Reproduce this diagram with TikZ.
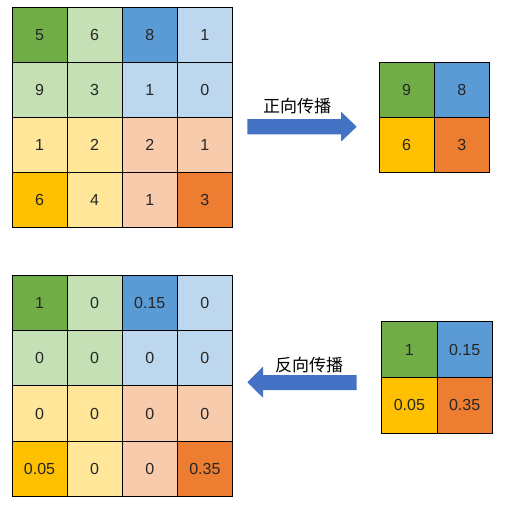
\documentclass[tikz,border=0pt]{standalone}
\usepackage{fontspec}
\setmainfont{Liberation Sans}
\newfontfamily\cjk{Noto Sans CJK SC}
\usetikzlibrary{shapes.arrows}
\definecolor{dg}{HTML}{70AD47}
\definecolor{lg}{HTML}{C5E0B4}
\definecolor{db}{HTML}{5B9BD5}
\definecolor{lb}{HTML}{BDD7EE}
\definecolor{dy}{HTML}{FFC000}
\definecolor{ly}{HTML}{FFE699}
\definecolor{do}{HTML}{ED7D31}
\definecolor{lo}{HTML}{F8CBAD}
\definecolor{arr}{HTML}{4472C4}
\begin{document}
\begin{tikzpicture}[x=1pt,y=-1pt,
  cell/.style={draw=black,line width=0.9pt,minimum width=55pt,minimum height=55pt,inner sep=0pt,font=\fontsize{16}{16}\selectfont,text=black!85},
  lab/.style={font=\cjk\fontsize{17}{17}\selectfont,inner sep=0pt}]
\useasboundingbox (0,0) rectangle (512,504);
\fill[white] (0,0) rectangle (512,504);
% top big grid
\def\gx{12}\def\gy{7}
\foreach \r/\c/\col/\v [count=\i] in {
 0/0/dg/5, 0/1/lg/6, 0/2/db/8, 0/3/lb/1,
 1/0/lg/9, 1/1/lg/3, 1/2/lb/1, 1/3/lb/0,
 2/0/ly/1, 2/1/ly/2, 2/2/lo/2, 2/3/lo/1,
 3/0/dy/6, 3/1/ly/4, 3/2/lo/1, 3/3/do/3}
 \node[cell,fill=\col,minimum width=55.1pt,minimum height=55.2pt] (a\i) at ({\gx+27.55+55.1*\c},{\gy+27.6+55.2*\r}) {\v};
% top small grid
\foreach \r/\c/\col/\v [count=\i] in {0/0/dg/9, 0/1/db/8, 1/0/dy/6, 1/1/do/3}
 \node[cell,fill=\col] (b\i) at ({379+27.6+55.2*\c},{61.7+27.8+55.8*\r}) {\v};
% bottom big grid
\foreach \r/\c/\col/\v [count=\i] in {
 0/0/dg/1, 0/1/lg/0, 0/2/db/0.15, 0/3/lb/0,
 1/0/lg/0, 1/1/lg/0, 1/2/lb/0, 1/3/lb/0,
 2/0/ly/0, 2/1/ly/0, 2/2/lo/0, 2/3/lo/0,
 3/0/dy/0.05, 3/1/ly/0, 3/2/lo/0, 3/3/do/0.35}
 \node[cell,fill=\col,minimum width=55.1pt,minimum height=55.4pt] (c\i) at ({12+27.55+55.1*\c},{275+27.7+55.4*\r}) {\v};
% bottom small grid
\foreach \r/\c/\col/\v [count=\i] in {0/0/dg/1, 0/1/db/0.15, 1/0/dy/0.05, 1/1/do/0.35}
 \node[cell,fill=\col,minimum width=55.3pt,minimum height=55.8pt] (d\i) at ({381.7+27.65+55.3*\c},{321.7+27.9+55.8*\r}) {\v};
% arrows
\coordinate (ra1) at (247.3,119);
\coordinate (ra2) at (341,119);
\coordinate (ra3) at (341,111.7);
\coordinate (ra4) at (356.7,126.7);
\coordinate (ra5) at (341,141.7);
\coordinate (ra6) at (341,134.3);
\coordinate (ra7) at (247.3,134.3);
\fill[arr] (ra1) -- (ra2) -- (ra3) -- (ra4) -- (ra5) -- (ra6) -- (ra7) -- cycle;
\node[lab] (t1) at (297,106) {正向传播};
\coordinate (la1) at (356.7,375);
\coordinate (la2) at (263,375);
\coordinate (la3) at (263,366.7);
\coordinate (la4) at (247.3,382.2);
\coordinate (la5) at (263,397.7);
\coordinate (la6) at (263,390);
\coordinate (la7) at (356.7,390);
\fill[arr] (la1) -- (la2) -- (la3) -- (la4) -- (la5) -- (la6) -- (la7) -- cycle;
\node[lab] (t2) at (309,365) {反向传播};
\end{tikzpicture}
\end{document}
